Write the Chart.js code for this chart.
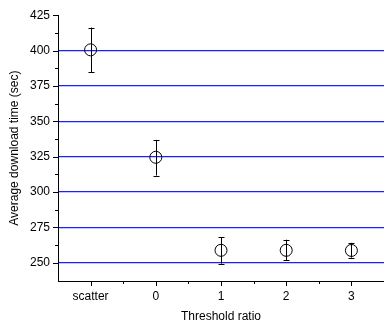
<!DOCTYPE html>
<html>
<head>
<meta charset="utf-8">
<script src="https://cdn.jsdelivr.net/npm/chart.js@4"></script>
<style>
  html, body { margin: 0; padding: 0; background: #fff; }
  #wrap { width: 384px; height: 327px; }
</style>
</head>
<body>
<div id="wrap"><canvas id="chart" width="384" height="327"></canvas></div>
<script>
const categories = ["scatter", "0", "1", "2", "3"];
const meanTime = [400.5, 324.5, 258.7, 258.7, 258.6];
const errLow = [384.8, 311.6, 249.3, 251.6, 253.5];
const errHigh = [416.3, 336.8, 268.0, 266.2, 264.0];
const yTicks = [250, 275, 300, 325, 350, 375, 400, 425];
const yMinor = [262.5, 287.5, 312.5, 337.5, 362.5, 387.5, 412.5];
const xMinor = [0.5, 1.5, 2.5, 3.5];

// error bars + minor/major tick marks, drawn through the scales
const extras = {
  id: "extras",
  beforeDatasetsDraw(chart) {
    const ctx = chart.ctx, xs = chart.scales.x, ys = chart.scales.y;
    ctx.save();
    ctx.strokeStyle = "#000";
    ctx.lineWidth = 1;
    categories.forEach((c, i) => {
      const x = Math.round(xs.getPixelForValue(i)) + 0.5;
      const yl = ys.getPixelForValue(errLow[i]);
      const yh = ys.getPixelForValue(errHigh[i]);
      ctx.beginPath();
      ctx.moveTo(x, yl); ctx.lineTo(x, yh);
      ctx.moveTo(x - 3, Math.round(yl) + 0.5); ctx.lineTo(x + 3, Math.round(yl) + 0.5);
      ctx.moveTo(x - 3, Math.round(yh) + 0.5); ctx.lineTo(x + 3, Math.round(yh) + 0.5);
      ctx.stroke();
    });
    ctx.restore();
  },
  afterDraw(chart) {
    const ctx = chart.ctx, xs = chart.scales.x, ys = chart.scales.y;
    const a = chart.chartArea;
    ctx.save();
    ctx.strokeStyle = "#000";
    ctx.lineWidth = 1;
    ctx.beginPath();
    yTicks.forEach(v => {
      const y = Math.round(ys.getPixelForValue(v)) + 0.5;
      ctx.moveTo(a.left - 5, y); ctx.lineTo(a.left, y);
    });
    yMinor.forEach(v => {
      const y = Math.round(ys.getPixelForValue(v)) + 0.5;
      ctx.moveTo(a.left - 3, y); ctx.lineTo(a.left, y);
    });
    categories.forEach((c, i) => {
      const x = Math.round(xs.getPixelForValue(i)) + 0.5;
      ctx.moveTo(x, a.bottom); ctx.lineTo(x, a.bottom + 5);
    });
    xMinor.forEach(v => {
      const x = Math.round(xs.getPixelForValue(v)) + 0.5;
      ctx.moveTo(x, a.bottom); ctx.lineTo(x, a.bottom + 3);
    });
    ctx.stroke();
    ctx.restore();
  }
};

const font = { family: "'Liberation Sans', Arial, sans-serif", size: 12 };
const gridColors = yTicks.map(v => v === 425 ? "rgba(0,0,0,0)" : "#1e1eff");

new Chart(document.getElementById("chart"), {
  type: "scatter",
  data: {
    datasets: [{
      data: categories.map((c, i) => ({ x: i, y: meanTime[i] })),
      pointRadius: 6,
      pointHoverRadius: 6,
      pointBorderColor: "#000",
      pointBackgroundColor: "rgba(0,0,0,0)",
      pointBorderWidth: 1
    }]
  },
  options: {
    responsive: false,
    animation: false,
    layout: { autoPadding: false, padding: { top: 14, right: 0, left: 0, bottom: 0 } },
    plugins: { legend: { display: false }, tooltip: { enabled: false } },
    scales: {
      x: {
        type: "linear",
        min: -0.5, max: 4.5,
        afterBuildTicks: s => { s.ticks = categories.map((c, i) => ({ value: i })); },
        afterFit: s => { s.height = 46; },
        grid: { display: false, drawTicks: false },
        border: { display: true, color: "#000", width: 1 },
        ticks: { color: "#000", font, padding: 8, maxRotation: 0, callback: v => categories[v] },
        title: { display: true, text: "Threshold ratio", color: "#000", font, padding: { top: 4, bottom: 3 } }
      },
      y: {
        min: 237, max: 425,
        afterBuildTicks: s => { s.ticks = yTicks.map(v => ({ value: v })); },
        afterFit: s => { s.width = 58; },
        grid: { drawTicks: false, color: gridColors, lineWidth: 1.2 },
        border: { display: true, color: "#000", width: 1 },
        ticks: { color: "#000", font, padding: 8 },
        title: { display: true, text: "Average download time (sec)", color: "#000", font, padding: { top: 7, bottom: 4 } }
      }
    }
  },
  plugins: [extras]
});
</script>
</body>
</html>
